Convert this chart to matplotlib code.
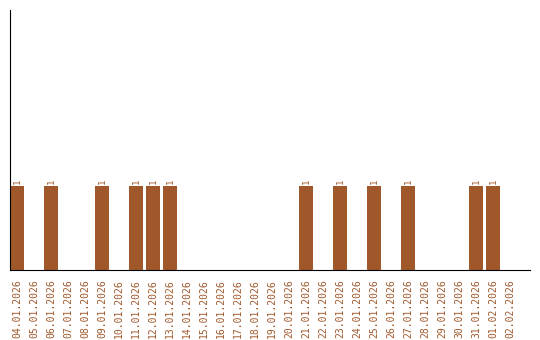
import matplotlib
matplotlib.use('Agg')
import matplotlib.pyplot as plt
import numpy as np

dates = ['04.01.2026', '05.01.2026', '06.01.2026', '07.01.2026', '08.01.2026',
         '09.01.2026', '10.01.2026', '11.01.2026', '12.01.2026', '13.01.2026',
         '14.01.2026', '15.01.2026', '16.01.2026', '17.01.2026', '18.01.2026',
         '19.01.2026', '20.01.2026', '21.01.2026', '22.01.2026', '23.01.2026',
         '24.01.2026', '25.01.2026', '26.01.2026', '27.01.2026', '28.01.2026',
         '29.01.2026', '30.01.2026', '31.01.2026', '01.02.2026', '02.02.2026']
counts = [1, 0, 1, 0, 0, 1, 0, 1, 1, 1,
          0, 0, 0, 0, 0, 0, 0, 1, 0, 1,
          0, 1, 0, 1, 0, 0, 0, 1, 1, 0]

col = '#a0582a'

fig = plt.figure(figsize=(5.4, 3.4), dpi=100)
ax = fig.add_axes([10 / 540, 70 / 340, 520 / 540, 260 / 340])

x = np.arange(len(dates))
ax.bar(x, counts, width=0.82, color=col)
for xi, c in zip(x, counts):
    if c > 0:
        ax.text(xi, c + 0.03, str(c), rotation=90, ha='center', va='bottom',
                fontsize=6.5, family='DejaVu Sans Mono', color=col)

ax.set_xlim(-0.41, 30.18)
ax.set_ylim(0, 3.1)
ax.set_xticks(x)
ax.set_xticklabels(dates, rotation=90, family='DejaVu Sans Mono', fontsize=7, color=col)
ax.tick_params(axis='x', length=0, pad=7)
ax.set_yticks([])
ax.spines['top'].set_visible(False)
ax.spines['right'].set_visible(False)

fig.savefig('out.png', dpi=100)
